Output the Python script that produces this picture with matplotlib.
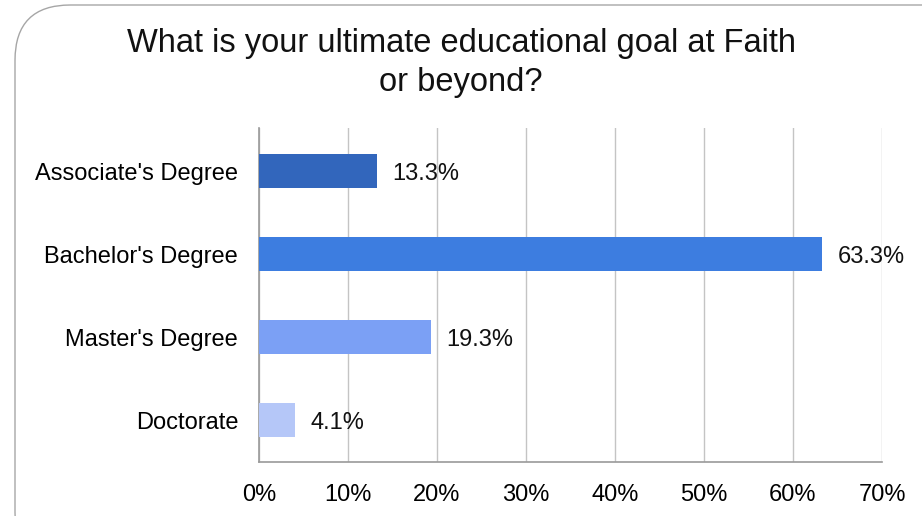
import matplotlib.pyplot as plt
from matplotlib.patches import FancyBboxPatch

plt.rcParams['font.family'] = ['Liberation Sans', 'DejaVu Sans']

categories = ["Associate's Degree", "Bachelor's Degree", "Master's Degree", "Doctorate"]
values = [13.3, 63.3, 19.3, 4.1]
colors = ['#3266bc', '#3d7de0', '#7ba0f5', '#b5c7f8']
x_ticks = [0, 10, 20, 30, 40, 50, 60, 70]
x_ticklabels = [f"{t}%" for t in x_ticks]

fig = plt.figure(figsize=(9.22, 5.16), dpi=100)

# rounded frame around the chart
frame = FancyBboxPatch((15 / 922, -0.1), 1.2, 1.1 - 5 / 516,
                       boxstyle="round,pad=0,rounding_size=0.06",
                       transform=fig.transFigure, facecolor='none',
                       edgecolor='#a6a6a6', linewidth=1.0, zorder=-1,
                       mutation_aspect=922 / 516)
fig.patches.append(frame)

ax = fig.add_axes([259 / 922, 1 - 462 / 516, (882 - 259) / 922, (462 - 128) / 516])
ax.set_facecolor('none')

ypos = list(range(len(categories)))
ax.barh(ypos, values, height=0.41, color=colors, zorder=3)

for y, v in zip(ypos, values):
    ax.annotate(f"{v}%", (v, y), xytext=(11, 0), textcoords='offset points',
                va='center_baseline', ha='left', fontsize=17, color='#111111', zorder=4)

ax.set_xlim(0, 70)
ax.set_ylim(3.5, -0.52)
ax.set_xticks(x_ticks)
ax.set_xticklabels(x_ticklabels, fontsize=17)
ax.set_yticks(ypos)
ax.set_yticklabels(categories, fontsize=17, va='center_baseline')
ax.tick_params(length=0, pad=15)
ax.tick_params(axis='x', pad=16)
ax.grid(axis='x', color='#c4c4c4', linewidth=1.0, zorder=0)

for side in ['top', 'right']:
    ax.spines[side].set_visible(False)
for side in ['left', 'bottom']:
    ax.spines[side].set_color('#9a9a9a')
    ax.spines[side].set_linewidth(1.2)

fig.text(0.5, 1 - 63 / 516, "What is your ultimate educational goal at Faith\nor beyond?",
         ha='center', va='center', fontsize=23.5, color='#111111', linespacing=1.3)

fig.savefig('out.png', dpi=100)
